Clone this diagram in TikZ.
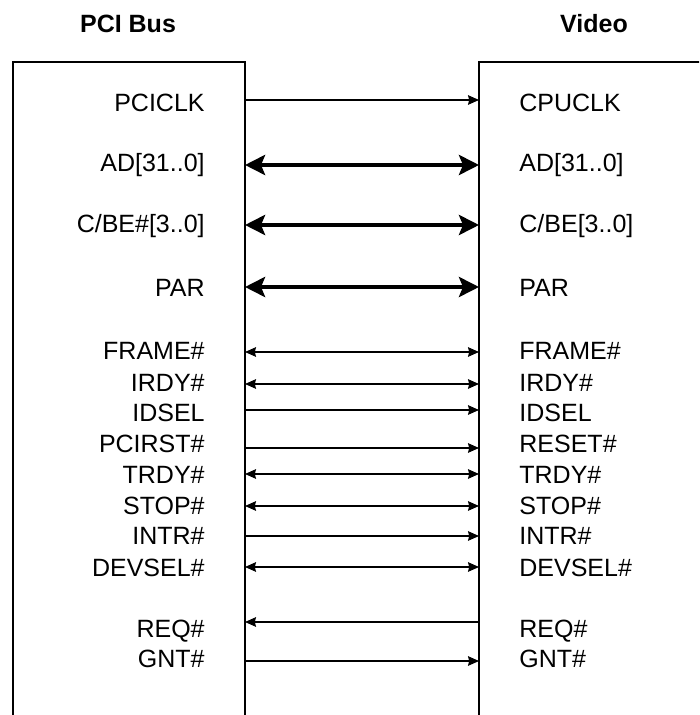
\documentclass[tikz,border=0pt]{standalone}
\usepackage{fontspec}
\setmainfont{Liberation Sans}
\usetikzlibrary{arrows.meta}

\tikzset{
  box/.style={line width=1.3pt},
  sig/.style={line width=0.6pt},
  bus/.style={line width=2.2pt, {Stealth[length=10pt,width=10pt,inset=2pt]}-{Stealth[length=10pt,width=10pt,inset=2pt]}},
  both/.style={sig, {Stealth[length=5.5pt,width=4.8pt,inset=0.6pt]}-{Stealth[length=5.5pt,width=4.8pt,inset=0.6pt]}},
  tor/.style={sig, -{Stealth[length=5.5pt,width=4.8pt,inset=0.6pt]}},
  tol/.style={sig, {Stealth[length=5.5pt,width=4.8pt,inset=0.6pt]}-},
  lbl/.style={inner sep=0pt, font=\fontsize{12.5}{15}\selectfont},
  ttl/.style={inner sep=0pt, font=\fontsize{12.5}{15}\selectfont\bfseries}
}

\begin{document}
\begin{tikzpicture}[x=0.5pt, y=-0.5pt]
        \useasboundingbox (0,0) rectangle (699,715);
        \clip (0,0) rectangle (699,715);

        % Titles
        \node[ttl] (pcititle) at (128,24) {PCI Bus};
        \node[ttl] (vidtitle) at (594,24) {Video};

        % Draw the two blocks (open at the bottom)
        \draw[box] (13,730) -- (13,62) -- (245,62) -- (245,730);
        \draw[box] (479,730) -- (479,62) -- (720,62);

        % Signals: label y / arrow y / left name / right name / line style
        \foreach \i/\ly/\ay/\l/\r/\tip in {
            1/103/100/PCICLK/CPUCLK/tor,
            2/163/165/{AD[31..0]}/{AD[31..0]}/bus,
            3/224/225/{C/BE\#[3..0]}/{C/BE[3..0]}/bus,
            4/288/287/PAR/PAR/bus,
            5/350/352/FRAME\#/FRAME\#/both,
            6/382/384/IRDY\#/IRDY\#/both,
            7/412/410/IDSEL/IDSEL/tor,
            8/443/448/PCIRST\#/RESET\#/tor,
            9/474/474/TRDY\#/TRDY\#/both,
            10/505/506/STOP\#/STOP\#/both,
            11/535/536/INTR\#/INTR\#/tor,
            12/567/567/DEVSEL\#/DEVSEL\#/both,
            13/628/622/REQ\#/REQ\#/tol,
            14/658/661/GNT\#/GNT\#/tor} {
          \node[lbl, anchor=base east] (pin\i) at (205,\ly+9) {\l};
          \node[lbl, anchor=base west] (vin\i) at (519,\ly+9) {\r};
          \coordinate (a\i) at (245,\ay);
          \coordinate (b\i) at (479,\ay);
          \draw[\tip] (a\i) -- (b\i);
        }
\end{tikzpicture}
\end{document}
